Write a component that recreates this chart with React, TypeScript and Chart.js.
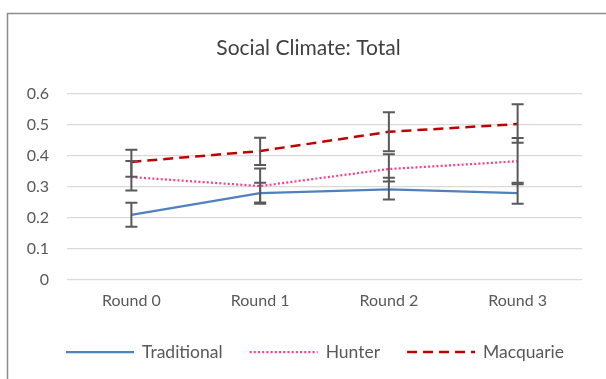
import React, { useEffect, useRef } from "react";
import { Chart, registerables } from "chart.js";
Chart.register(...registerables);

const categories = ["Round 0", "Round 1", "Round 2", "Round 3"];
const seriesNames = ["Traditional", "Hunter", "Macquarie"];
const traditional = [0.21, 0.28, 0.292, 0.28];
const traditionalLow = [0.172, 0.25, 0.26, 0.246];
const traditionalHigh = [0.249, 0.314, 0.33, 0.314];
const hunter = [0.332, 0.303, 0.358, 0.383];
const hunterLow = [0.289, 0.246, 0.318, 0.309];
const hunterHigh = [0.384, 0.36, 0.406, 0.458];
const macquarie = [0.381, 0.416, 0.478, 0.503];
const macquarieLow = [0.333, 0.371, 0.415, 0.443];
const macquarieHigh = [0.42, 0.459, 0.541, 0.567];
const yMin = 0;
const yMax = 0.6;
const yStep = 0.1;
const titleText = "Social Climate: Total";

const FONT = "Lato, 'Noto Sans', sans-serif";

const errorBarsPlugin = {
  id: "errorBars",
  afterDatasetsDraw(chart: any) {
    const ctx = chart.ctx;
    const y = chart.scales.y;
    ctx.save();
    ctx.strokeStyle = "#595959";
    ctx.lineWidth = 2;
    ctx.setLineDash([]);
    chart.data.datasets.forEach((ds: any, di: number) => {
      const meta = chart.getDatasetMeta(di);
      meta.data.forEach((pt: any, i: number) => {
        const x = pt.x;
        const yl = y.getPixelForValue(ds.errLow[i]);
        const yh = y.getPixelForValue(ds.errHigh[i]);
        ctx.beginPath();
        ctx.moveTo(x, yl);
        ctx.lineTo(x, yh);
        ctx.moveTo(x - 6, yl);
        ctx.lineTo(x + 6, yl);
        ctx.moveTo(x - 6, yh);
        ctx.lineTo(x + 6, yh);
        ctx.stroke();
      });
    });
    ctx.restore();
  },
};

const framePlugin = {
  id: "frame",
  beforeDraw(chart: any) {
    const ctx = chart.ctx;
    ctx.save();
    ctx.fillStyle = "#ffffff";
    ctx.fillRect(0, 0, chart.width, chart.height);
    ctx.strokeStyle = "#8c8c8c";
    ctx.lineWidth = 1.5;
    ctx.beginPath();
    ctx.moveTo(7.5, chart.height + 2);
    ctx.lineTo(7.5, 13.5);
    ctx.lineTo(chart.width + 2, 13.5);
    ctx.stroke();
    ctx.restore();
  },
  afterDraw(chart: any) {
    const ctx = chart.ctx;
    ctx.save();
    // title
    ctx.fillStyle = "#404040";
    ctx.font = `21px ${FONT}`;
    ctx.textAlign = "center";
    ctx.textBaseline = "middle";
    ctx.fillText(titleText, 308.5, 48);
    // legend
    ctx.font = `17.5px ${FONT}`;
    ctx.textAlign = "left";
    let x = 66;
    const yc = 352;
    chart.data.datasets.forEach((ds: any) => {
      ctx.strokeStyle = ds.borderColor;
      ctx.lineWidth = ds.borderWidth;
      ctx.setLineDash(ds.borderDash || []);
      ctx.beginPath();
      ctx.moveTo(x, yc);
      ctx.lineTo(x + 68, yc);
      ctx.stroke();
      ctx.setLineDash([]);
      ctx.fillStyle = "#595959";
      ctx.fillText(ds.label, x + 76, yc);
      x += 76 + ctx.measureText(ds.label).width + 27;
    });
    ctx.restore();
  },
};

export default function App() {
  const ref = useRef<HTMLCanvasElement>(null);
  useEffect(() => {
    document.body.style.margin = "0";
    const chart = new Chart(ref.current as HTMLCanvasElement, {
      type: "line",
      data: {
        labels: categories,
        datasets: [
          {
            label: seriesNames[0],
            data: traditional,
            errLow: traditionalLow,
            errHigh: traditionalHigh,
            borderColor: "#4F81BD",
            backgroundColor: "#4F81BD",
            borderWidth: 2.25,
            pointRadius: 0,
            tension: 0,
          } as any,
          {
            label: seriesNames[1],
            data: hunter,
            errLow: hunterLow,
            errHigh: hunterHigh,
            borderColor: "#FF3C8C",
            backgroundColor: "#FF3C8C",
            borderWidth: 2.25,
            borderDash: [2, 2.2],
            pointRadius: 0,
            tension: 0,
          } as any,
          {
            label: seriesNames[2],
            data: macquarie,
            errLow: macquarieLow,
            errHigh: macquarieHigh,
            borderColor: "#C00000",
            backgroundColor: "#C00000",
            borderWidth: 2.5,
            borderDash: [10, 6],
            pointRadius: 0,
            tension: 0,
          } as any,
        ],
      },
      options: {
        animation: false,
        responsive: false,
        layout: { padding: { left: 0, right: 24, top: 94, bottom: 62 } },
        scales: {
          x: {
            offset: true,
            grid: { display: false, drawTicks: false },
            border: { display: false },
            ticks: { color: "#595959", font: { family: FONT, size: 16 }, padding: 11 },
            afterFit: (s: any) => {
              s.height = 37;
            },
          },
          y: {
            min: yMin,
            max: yMax,
            ticks: {
              stepSize: yStep,
              color: "#595959",
              font: { family: FONT, size: 16 },
              padding: 18,
              callback: (v: any) => (Math.round(Number(v) * 10) / 10).toString(),
            },
            grid: { color: "#d9d9d9", lineWidth: 1.3, drawTicks: false },
            border: { display: false },
            afterFit: (s: any) => {
              s.width = 67;
            },
          },
        },
        plugins: {
          title: { display: false },
          legend: { display: false },
          tooltip: { enabled: false },
        },
      } as any,
      plugins: [errorBarsPlugin, framePlugin],
    });
    return () => chart.destroy();
  }, []);
  return (
    <canvas ref={ref} width={606} height={379} style={{ display: "block", width: 606, height: 379 }} />
  );
}
